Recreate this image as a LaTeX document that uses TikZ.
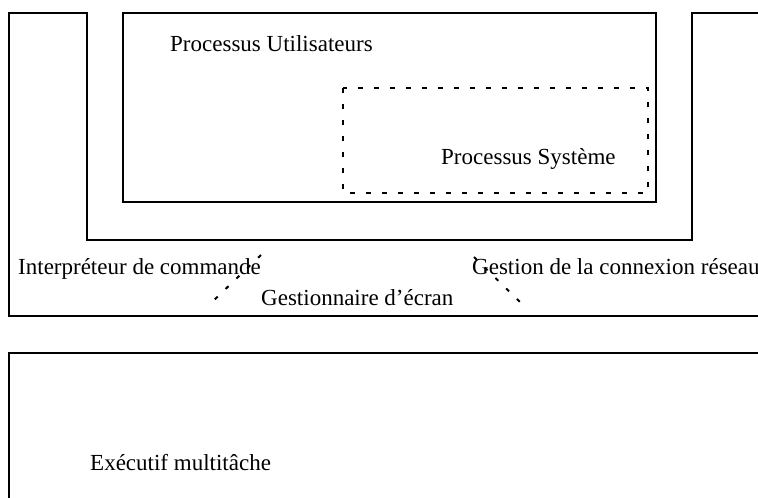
\documentclass[tikz,border=0pt]{standalone}
\usepackage{fontspec}
\setmainfont{Liberation Serif}[Ligatures=ResetAll]
\begin{document}
\begin{tikzpicture}[x=1pt,y=-1pt,
  frame/.style={draw=black,line width=1.8pt},
  dashbox/.style={draw=black,line width=1.9pt,dash pattern=on 5pt off 11pt},
  tick/.style={draw=black,line width=2pt,dash pattern=on 4pt off 11pt},
  lab/.style={anchor=base west,inner sep=0pt,font=\fontsize{23}{27}\selectfont}]
\useasboundingbox (0,0) rectangle (758,498);
% outer shell (command interpreter, network, screen manager layer)
\coordinate (s1) at (9,13);
\coordinate (s2) at (87,13);
\coordinate (s3) at (87,240);
\coordinate (s4) at (692,240);
\coordinate (s5) at (692,13);
\coordinate (s6) at (760,13);
\coordinate (s7) at (760,316);
\coordinate (s8) at (9,316);
\draw[frame] (s6) -- (s5) -- (s4) -- (s3) -- (s2) -- (s1) -- (s8) -- (s7);
% user processes box
\coordinate (u1) at (123,13);
\coordinate (u2) at (656,202);
\draw[frame] (u1) rectangle (u2);
% system processes (dashed)
\coordinate (d1) at (343,88);
\coordinate (d2) at (648,193);
\draw[dashbox] (d1) rectangle (d2);
% executive box
\coordinate (e1) at (760,353);
\coordinate (e2) at (9,353);
\coordinate (e3) at (9,500);
\draw[frame] (e1) -- (e2) -- (e3);
% labels
\node[lab] (pu) at (170,51) {Processus Utilisateurs};
\node[lab] (ps) at (441,164) {Processus Système};
\node[lab] (ic) at (18,274) {Interpréteur de commande};
\node[lab] (gc) at (472,274) {Gestion de la connexion réseau};
\node[lab] (ge) at (261,305) {Gestionnaire d'écran};
\node[lab] (ex) at (90,470) {Exécutif multitâche};
% dashed diagonals
\coordinate (t1) at (261,255);
\coordinate (t2) at (212,302);
\coordinate (t3) at (474,257);
\coordinate (t4) at (520,302);
\draw[tick] (t1) -- (t2);
\draw[tick] (t3) -- (t4);
\end{tikzpicture}
\end{document}
